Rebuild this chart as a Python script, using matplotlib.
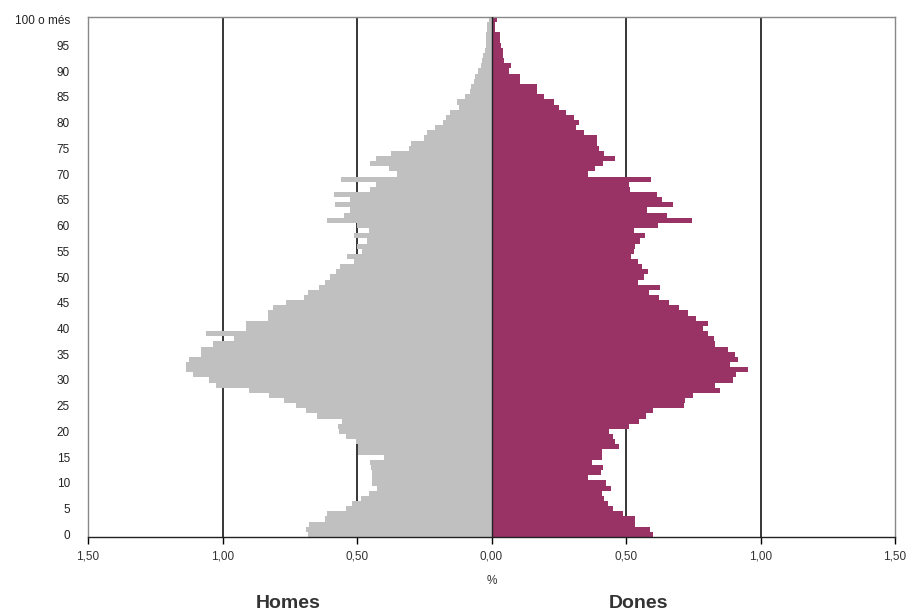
import numpy as np
import matplotlib
matplotlib.use("Agg")
import matplotlib.pyplot as plt

plt.rcParams['font.family'] = ['Liberation Sans', 'DejaVu Sans']

# % of population by age (0 .. 100 o més)
ages = np.arange(0, 101)
homes = [0.684, 0.69, 0.677, 0.62, 0.61, 0.54, 0.52, 0.485, 0.455, 0.424,
         0.443, 0.443, 0.446, 0.449, 0.45, 0.40, 0.496, 0.496, 0.504, 0.541,
         0.566, 0.572, 0.554, 0.647, 0.69, 0.727, 0.77, 0.826, 0.90, 1.025,
         1.05, 1.11, 1.136, 1.136, 1.124, 1.08, 1.08, 1.034, 0.957, 1.062,
         0.913, 0.913, 0.829, 0.829, 0.814, 0.765, 0.696, 0.684, 0.64, 0.62,
         0.60, 0.578, 0.562, 0.51, 0.537, 0.48, 0.50, 0.464, 0.51, 0.455,
         0.50, 0.61, 0.55, 0.525, 0.583, 0.525, 0.587, 0.45, 0.43, 0.56,
         0.35, 0.38, 0.45, 0.43, 0.374, 0.306, 0.30, 0.25, 0.24, 0.21,
         0.18, 0.17, 0.155, 0.12, 0.13, 0.10, 0.08, 0.075, 0.065, 0.06,
         0.05, 0.04, 0.035, 0.03, 0.025, 0.02, 0.02, 0.02, 0.015, 0.015,
         0.01]
dones = [0.602, 0.59, 0.533, 0.533, 0.487, 0.45, 0.434, 0.419, 0.409, 0.446,
         0.425, 0.357, 0.406, 0.413, 0.375, 0.409, 0.409, 0.474, 0.458, 0.453,
         0.437, 0.512, 0.55, 0.574, 0.602, 0.716, 0.72, 0.75, 0.85, 0.83,
         0.896, 0.908, 0.952, 0.887, 0.917, 0.905, 0.88, 0.83, 0.826, 0.806,
         0.785, 0.806, 0.76, 0.729, 0.698, 0.66, 0.623, 0.586, 0.627, 0.545,
         0.567, 0.582, 0.561, 0.543, 0.518, 0.53, 0.534, 0.553, 0.571, 0.53,
         0.62, 0.745, 0.652, 0.578, 0.674, 0.632, 0.615, 0.515, 0.51, 0.592,
         0.357, 0.384, 0.416, 0.458, 0.42, 0.398, 0.394, 0.394, 0.344, 0.314,
         0.326, 0.307, 0.276, 0.252, 0.233, 0.196, 0.168, 0.168, 0.106, 0.106,
         0.066, 0.074, 0.047, 0.041, 0.041, 0.035, 0.033, 0.03, 0.012, 0.012,
         0.022]

xticks = [-1.5, -1.0, -0.5, 0.0, 0.5, 1.0, 1.5]
xticklabels = ["1,50", "1,00", "0,50", "0,00", "0,50", "1,00", "1,50"]
yticks = list(range(0, 101, 5))
yticklabels = [str(v) for v in range(0, 100, 5)] + ["100 o més"]

fig = plt.figure(figsize=(9.11, 6.13), dpi=100)
ax = fig.add_axes([88 / 911, 1 - 537 / 613, (895 - 88) / 911, (537 - 17) / 613])

for g in [-1.0, -0.5, 0.5, 1.0]:
    ax.axvline(g, color='black', lw=1.1, zorder=0)

ax.barh(ages, -np.array(homes), height=1.0, color='#c0c0c0', lw=0, zorder=2)
ax.barh(ages, dones, height=1.0, color='#993366', lw=0, zorder=2)
ax.axvline(0, color='#222222', lw=1.0, zorder=3)

ax.set_xlim(-1.5, 1.5)
ax.set_ylim(-0.5, 100.5)
ax.set_xticks(xticks)
ax.set_xticklabels(xticklabels, fontsize=8.5, color='#333333')
ax.set_yticks(yticks)
ax.set_yticklabels(yticklabels, fontsize=8.5, color='#222222')
ax.tick_params(axis='x', direction='out', length=5, width=1, pad=5)
ax.tick_params(axis='y', length=0, pad=13)

for s in ['left', 'top', 'right']:
    ax.spines[s].set_color('#888888')
    ax.spines[s].set_linewidth(1)
ax.spines['bottom'].set_color('#222222')
ax.spines['bottom'].set_linewidth(1)

fig.text(492 / 911, 1 - 581 / 613, "%", ha='center', va='center', fontsize=8.5, color='#333333')
fig.text(288 / 911, 1 - 603 / 613, "Homes", ha='center', va='center', fontsize=14,
         fontweight='bold', color='#333333')
fig.text(638 / 911, 1 - 603 / 613, "Dones", ha='center', va='center', fontsize=14,
         fontweight='bold', color='#333333')

fig.savefig("out.png", dpi=100)
